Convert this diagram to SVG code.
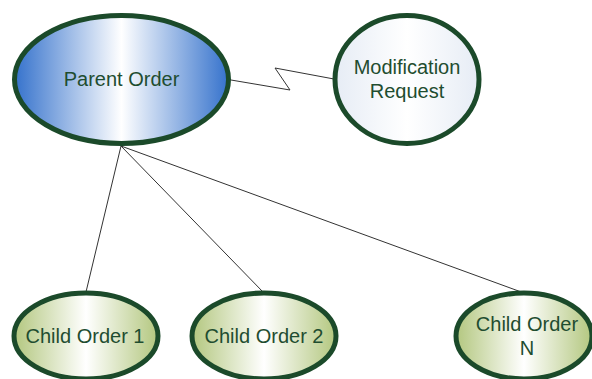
<svg xmlns="http://www.w3.org/2000/svg" width="592" height="379" viewBox="0 0 592 379">
  <defs>
    <linearGradient id="gBlue" x1="0" y1="0" x2="1" y2="0">
      <stop offset="0" stop-color="#3572cc"/>
      <stop offset="0.5" stop-color="#ffffff"/>
      <stop offset="1" stop-color="#3572cc"/>
    </linearGradient>
    <linearGradient id="gPale" x1="0" y1="0" x2="1" y2="0">
      <stop offset="0" stop-color="#e6ecf5"/>
      <stop offset="0.5" stop-color="#ffffff"/>
      <stop offset="1" stop-color="#e6ecf5"/>
    </linearGradient>
    <linearGradient id="gGreen" x1="0" y1="0" x2="1" y2="0">
      <stop offset="0" stop-color="#b3c77f"/>
      <stop offset="0.5" stop-color="#ffffff"/>
      <stop offset="1" stop-color="#b3c77f"/>
    </linearGradient>
    <style>
      .node { stroke: #1b4a2a; stroke-width: 5; }
      .label { font-family: "Liberation Sans", Arial, sans-serif; font-size: 20px; fill: #1f4d30; text-anchor: middle; }
      .conn { fill: none; stroke: #333333; stroke-width: 1; }
    </style>
  </defs>

  <g id="connectors">
    <line class="conn" x1="121" y1="146" x2="86" y2="292"/>
    <line class="conn" x1="121" y1="146" x2="263" y2="292"/>
    <line class="conn" x1="121" y1="146" x2="524" y2="293"/>
    <polyline class="conn" points="231,80 290,90 275,68 334,79"/>
  </g>

  <g id="parent-order">
    <ellipse class="node" cx="121.5" cy="79.5" rx="107" ry="64" fill="url(#gBlue)"/>
    <text class="label" x="121.5" y="86">Parent Order</text>
  </g>

  <g id="modification-request">
    <ellipse class="node" cx="407" cy="79.5" rx="72" ry="64" fill="url(#gPale)"/>
    <text class="label" x="407" y="74">Modification</text>
    <text class="label" x="407" y="98">Request</text>
  </g>

  <g id="child-order-1">
    <ellipse class="node" cx="86" cy="336" rx="72" ry="43" fill="url(#gGreen)"/>
    <text class="label" x="85" y="343">Child Order 1</text>
  </g>

  <g id="child-order-2">
    <ellipse class="node" cx="264" cy="336" rx="72" ry="43" fill="url(#gGreen)"/>
    <text class="label" x="264" y="343">Child Order 2</text>
  </g>

  <g id="child-order-n">
    <ellipse class="node" cx="524" cy="336" rx="68" ry="43" fill="url(#gGreen)"/>
    <text class="label" x="527" y="331">Child Order</text>
    <text class="label" x="527" y="355">N</text>
  </g>
</svg>
